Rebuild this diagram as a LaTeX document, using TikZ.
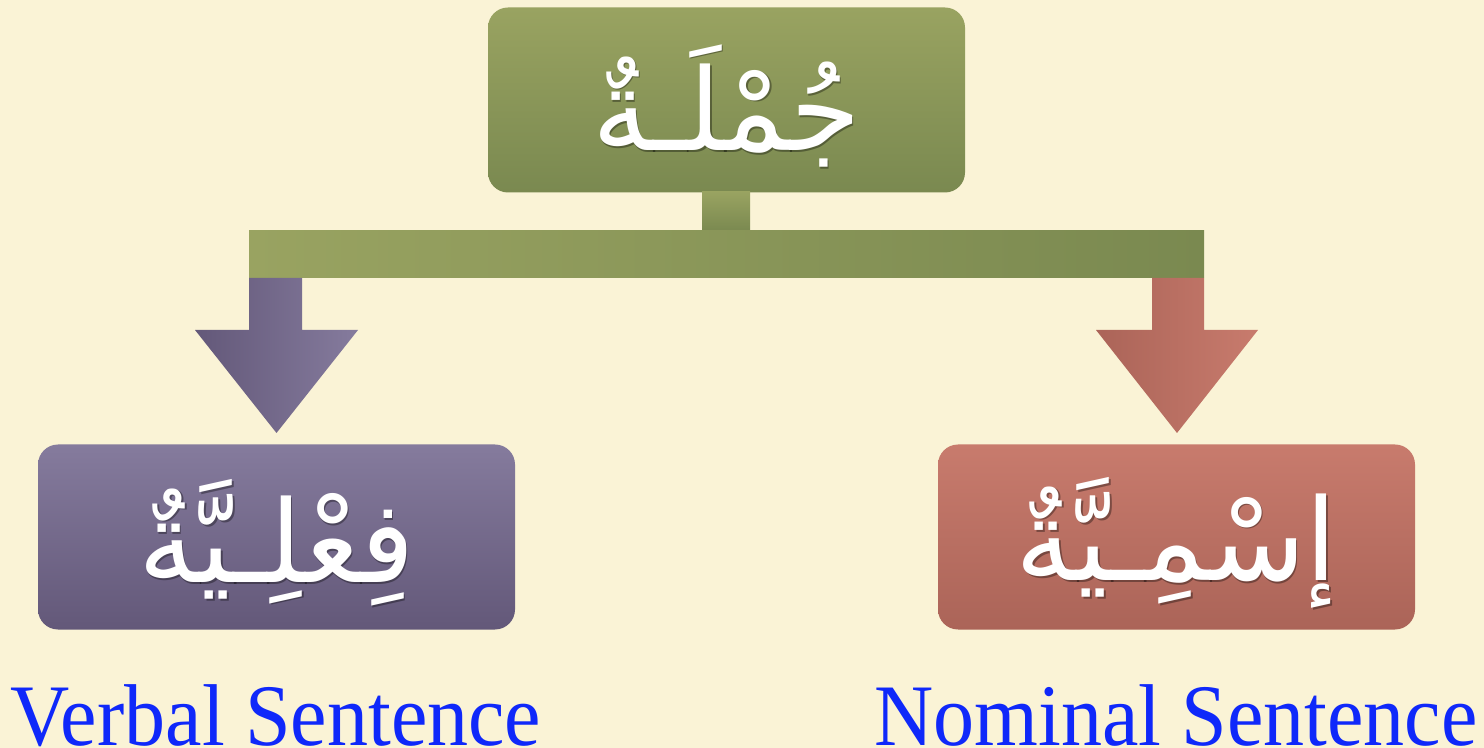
\documentclass[tikz,border=0pt]{standalone}
\usepackage{fontspec}
\setmainfont{Liberation Serif}
\newfontfamily\arabicfont[Script=Arabic]{DejaVu Sans}
\TeXXeTstate=1
\usetikzlibrary{shadings}
\definecolor{bgcream}{RGB}{250,243,214}
\definecolor{gtop}{RGB}{153,163,97}
\definecolor{gbot}{RGB}{122,137,80}
\definecolor{ptop}{RGB}{133,123,157}
\definecolor{pbot}{RGB}{99,88,121}
\definecolor{rtop}{RGB}{200,123,109}
\definecolor{rbot}{RGB}{171,100,88}
\definecolor{labelblue}{RGB}{15,40,250}
\tikzset{
  box/.style={rounded corners=10pt, minimum width=238.5pt, minimum height=92.5pt, inner sep=0pt},
  arlabel/.style={text=white, font=\arabicfont\fontsize{57}{66}\selectfont},
  arshadow/.style={text=black, opacity=0.35, font=\arabicfont\fontsize{57}{66}\selectfont},
  enlabel/.style={text=labelblue, font=\fontsize{41}{46}\selectfont, anchor=base, inner sep=0pt, yscale=1.07, transform shape}
}
\begin{document}
\begin{tikzpicture}[x=0.5pt,y=-0.5pt]
\fill[bgcream] (0,0) rectangle (1484,748);
\useasboundingbox (0,0) rectangle (1484,748);
% boxes
\node[box, top color=gtop, bottom color=gbot] (top) at (726.5,100) {};
\node[box, top color=ptop, bottom color=pbot] (left) at (276.5,537) {};
\node[box, top color=rtop, bottom color=rbot] (right) at (1176.5,537) {};
% connectors
\coordinate (stemtop) at (702,192);
\shade[top color=gtop, bottom color=gbot] (stemtop) rectangle (750,231);
\shade[left color=gtop, right color=gbot] (249,231) rectangle (1204,278);
\shade[left color=pbot, right color=ptop] (249,278) -- (302,278) -- (302,330) -- (358,330) -- (276.5,433) -- (195,330) -- (249,330) -- cycle;
\shade[left color=rbot, right color=rtop] (1152,278) -- (1204,278) -- (1204,330) -- (1258,330) -- (1177,433) -- (1096,330) -- (1152,330) -- cycle;
% arabic labels
\node[arshadow] at ([shift={(1.5,7.5)}]top.center) {\beginR جُمْلَـةٌ\endR};
\node[arlabel] (toptext) at ([shift={(0,6)}]top.center) {\beginR جُمْلَـةٌ\endR};
\node[arshadow] at ([shift={(1.5,7.5)}]left.center) {\beginR فِعْلِـيَّةٌ\endR};
\node[arlabel] (lefttext) at ([shift={(0,6)}]left.center) {\beginR فِعْلِـيَّةٌ\endR};
\node[arshadow] at ([shift={(1.5,7.5)}]right.center) {\beginR إسْمِـيَّةٌ\endR};
\node[arlabel] (righttext) at ([shift={(0,6)}]right.center) {\beginR إسْمِـيَّةٌ\endR};
% english labels
\node[enlabel] (verbal) at (276,745) {Verbal Sentence};
\node[enlabel] (nominal) at (1176,745) {Nominal Sentence};
\end{tikzpicture}
\end{document}
